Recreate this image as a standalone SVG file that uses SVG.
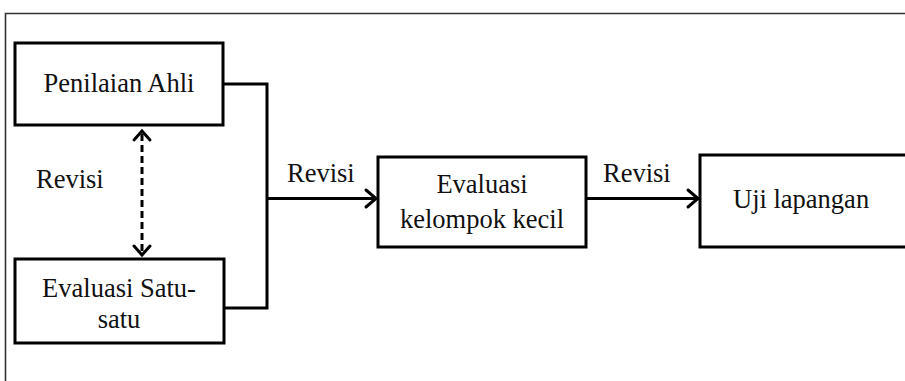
<svg xmlns="http://www.w3.org/2000/svg" width="905" height="381" viewBox="0 0 905 381">
  <style>
    .box { fill: #fff; stroke: #000; stroke-width: 3; }
    text { font-family: 'Liberation Serif', 'Times New Roman', Times, serif; font-size: 26.5px; fill: #111; }
    .mid { text-anchor: middle; }
    .wire { fill: none; stroke: #000; stroke-width: 3; }
    .head { fill: none; stroke: #000; stroke-width: 3; stroke-linecap: round; stroke-linejoin: miter; }
  </style>
  <rect width="905" height="381" fill="#fff"/>

  <!-- outer frame -->
  <path d="M5.5,381 V13.5 H905" fill="none" stroke="#333" stroke-width="1.6"/>

  <!-- connectors -->
  <g id="connectors">
    <path class="wire" d="M223,84 H267 V308 H224"/>
    <path class="wire" d="M267,198.5 H375"/>
    <path class="head" d="M366,190 L376,198.5 L366,207"/>
    <path class="wire" d="M586,198.5 H697"/>
    <path class="head" d="M688,190 L698,198.5 L688,207"/>
    <path class="wire" d="M142,134 V253" stroke-dasharray="7 4"/>
    <path class="head" d="M134,140 L142,131 L150,140"/>
    <path class="head" d="M134,246 L142,255 L150,246"/>
    <text font-family="Liberation Serif, serif" x="36" y="188">Revisi</text>
    <text font-family="Liberation Serif, serif" x="287" y="182">Revisi</text>
    <text font-family="Liberation Serif, serif" x="603" y="182">Revisi</text>
  </g>

  <g id="penilaian-ahli">
    <rect class="box" x="15" y="43" width="208" height="82"/>
    <text class="mid" x="119" y="92">Penilaian Ahli</text>
  </g>

  <g id="evaluasi-satu-satu">
    <rect class="box" x="15" y="259" width="209" height="84"/>
    <text class="mid" x="119" y="297">Evaluasi Satu-</text>
    <text class="mid" x="119" y="328">satu</text>
  </g>

  <g id="evaluasi-kelompok-kecil">
    <rect class="box" x="378" y="157" width="208" height="90"/>
    <text class="mid" x="482" y="193">Evaluasi</text>
    <text class="mid" x="482" y="228">kelompok kecil</text>
  </g>

  <g id="uji-lapangan">
    <rect class="box" x="700" y="155" width="220" height="92"/>
    <text x="733" y="208">Uji lapangan</text>
  </g>
</svg>
